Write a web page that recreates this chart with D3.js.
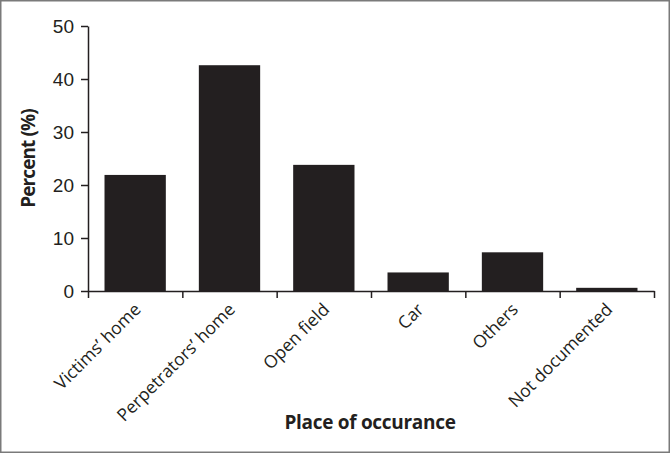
<!DOCTYPE html>
<html>
<head>
<meta charset="utf-8">
<script src="https://cdn.jsdelivr.net/npm/d3@7"></script>
<style>
  body { margin: 0; background: #fff; }
  svg { display: block; font-family: "Open Sans", sans-serif; }
</style>
</head>
<body>
<div id="chart"></div>
<script>
// data
const places = ["Victims\u2019 home", "Perpetrators\u2019 home", "Open field", "Car", "Others", "Not documented"];
const percents = [21.9, 42.6, 23.8, 3.5, 7.3, 0.6];
const yTicks = [0, 10, 20, 30, 40, 50];

const W = 670, H = 453;
const margin = {top: 26, right: 16, bottom: 162, left: 88};
const ink = "#231f20";

const svg = d3.select("#chart").append("svg")
    .attr("width", W)
    .attr("height", H);

// outer frame
svg.append("rect")
    .attr("x", 0.75).attr("y", 0.75)
    .attr("width", W - 1.5).attr("height", H - 1.5)
    .style("fill", "none")
    .style("stroke", "#7a7a7a")
    .style("stroke-width", 1.5);

const innerW = 654 - margin.left;
const innerH = 291 - margin.top;

const g = svg.append("g")
    .attr("transform", `translate(${margin.left},${margin.top})`);

const x = d3.scaleBand()
    .domain(places)
    .range([0, innerW])
    .paddingInner(0.35)
    .paddingOuter(0.175);

const y = d3.scaleLinear()
    .domain([0, 50])
    .range([innerH, 0]);

// bars
g.selectAll(".bar")
    .data(places)
    .enter().append("rect")
    .attr("class", "bar")
    .attr("x", d => x(d))
    .attr("width", x.bandwidth())
    .attr("y", (d, i) => y(percents[i]))
    .attr("height", (d, i) => innerH - y(percents[i]))
    .style("fill", ink);

// y axis
const yAxis = g.append("g")
    .call(d3.axisLeft(y).tickValues(yTicks).tickSize(7).tickSizeOuter(0));
yAxis.select(".domain").style("stroke", ink).style("stroke-width", 1.5);
yAxis.selectAll(".tick line").style("stroke", ink).style("stroke-width", 1.5);
yAxis.selectAll(".tick text")
    .attr("x", -14)
    .style("font-size", "19px")
    .style("fill", ink);

// x axis: ticks sit on the band edges
const xEdge = d3.scaleLinear().domain([0, places.length]).range([0, innerW]);
const xAxis = g.append("g")
    .attr("transform", `translate(0,${innerH})`)
    .call(d3.axisBottom(xEdge).ticks(places.length).tickFormat("").tickSize(7).tickSizeOuter(0));
xAxis.select(".domain").style("stroke", ink).style("stroke-width", 1.5);
xAxis.selectAll(".tick line").style("stroke", ink).style("stroke-width", 1.5);

// category labels, rotated
g.selectAll(".cat")
    .data(places)
    .enter().append("text")
    .attr("class", "cat")
    .attr("transform", d => `translate(${x(d) + x.bandwidth() / 2 - 2},${innerH + 11}) rotate(-45)`)
    .attr("text-anchor", "end")
    .attr("dy", "0.7em")
    .style("font-size", "17.5px")
    .style("fill", ink)
    .text(d => d);

// axis titles
svg.append("text")
    .attr("transform", `translate(35,${margin.top + innerH / 2}) rotate(-90)`)
    .attr("text-anchor", "middle")
    .style("font-size", "19px")
    .style("font-weight", "bold")
    .style("letter-spacing", "-0.9px")
    .style("fill", ink)
    .text("Percent (%)");

svg.append("text")
    .attr("x", 370)
    .attr("y", 429)
    .attr("text-anchor", "middle")
    .style("font-size", "19px")
    .style("font-weight", "bold")
    .style("letter-spacing", "-0.3px")
    .style("fill", ink)
    .text("Place of occurance");
</script>
</body>
</html>
